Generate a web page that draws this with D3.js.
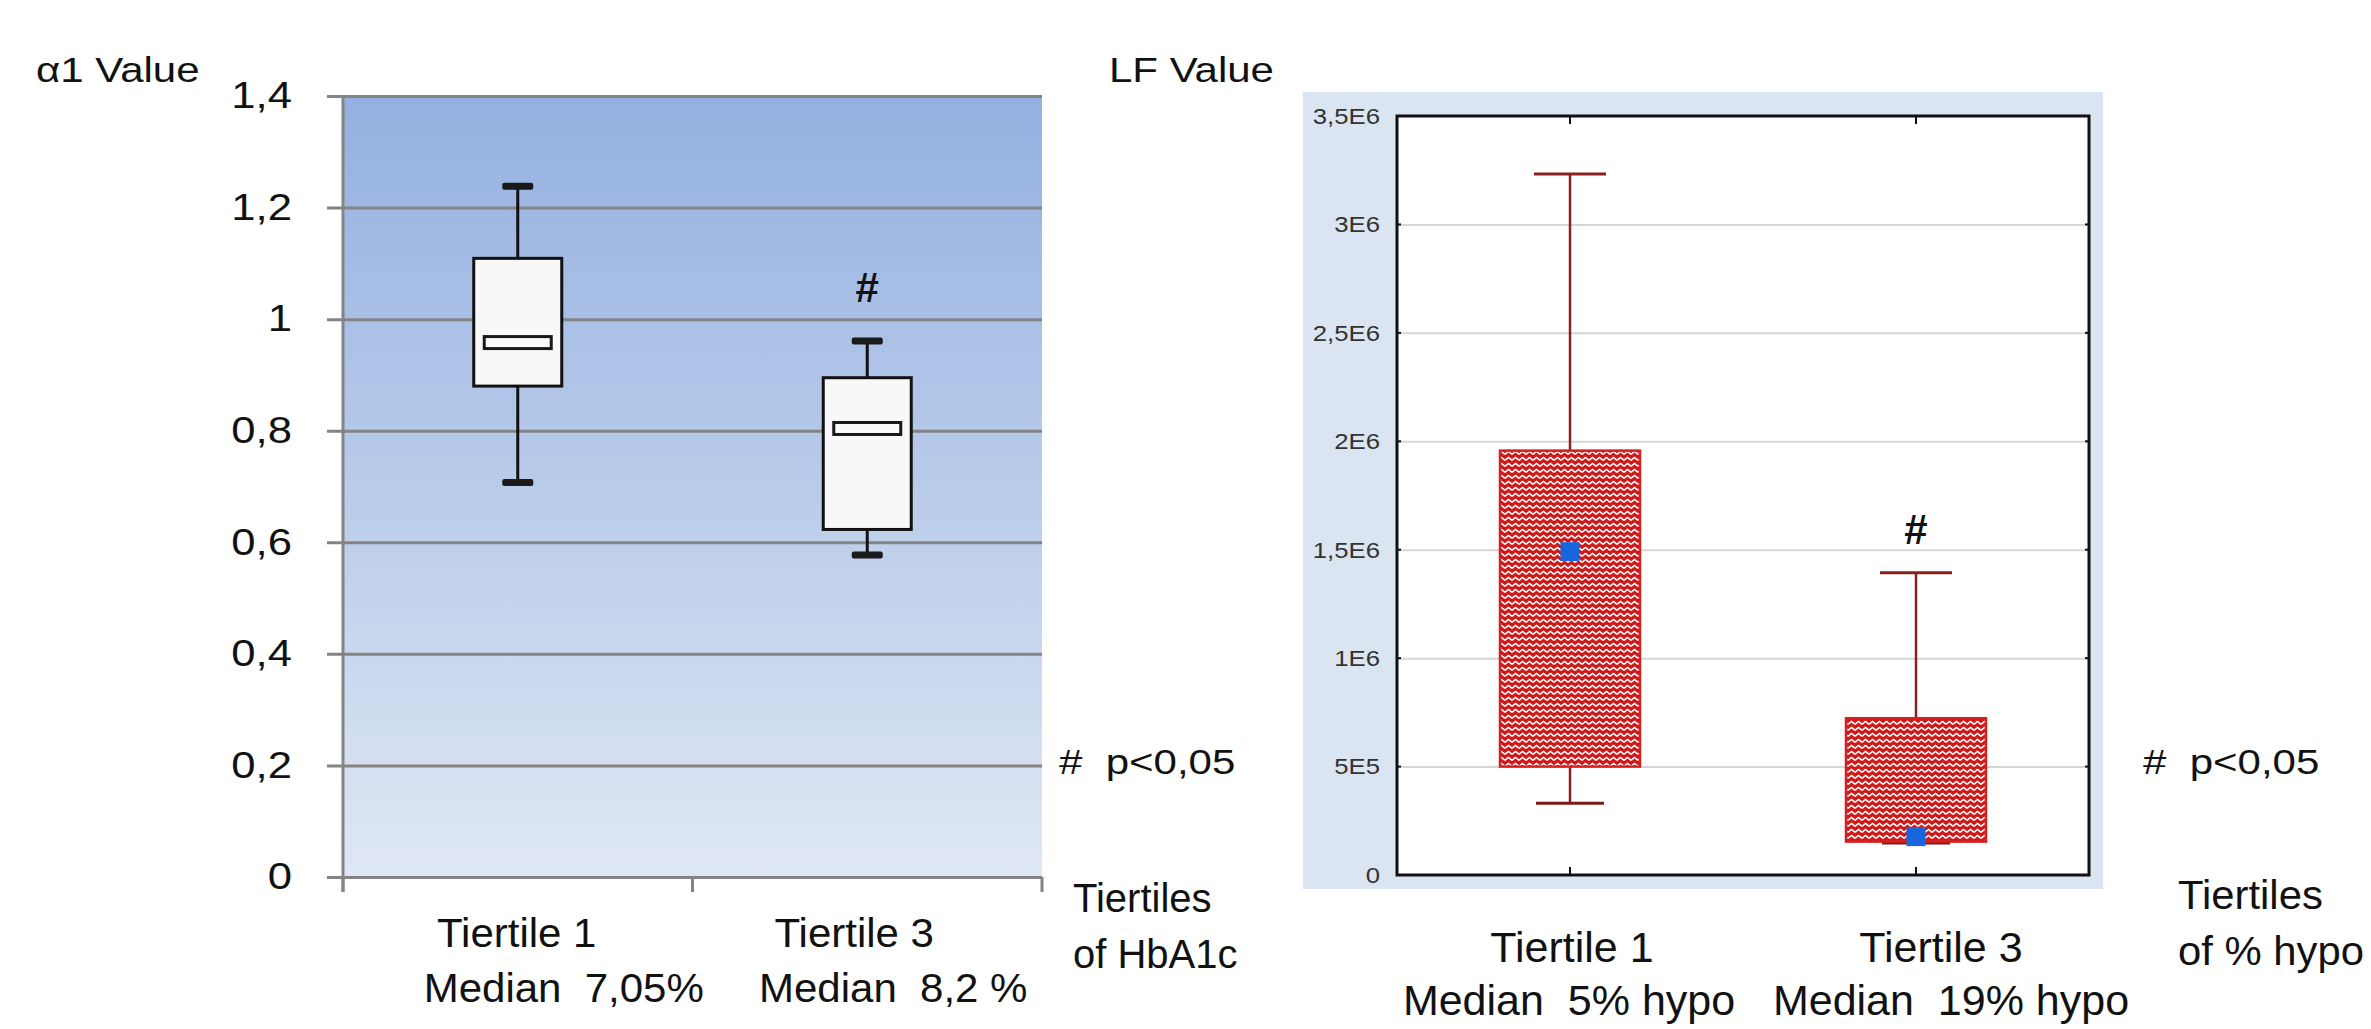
<!DOCTYPE html>
<html><head><meta charset="utf-8">
<script src="https://cdn.jsdelivr.net/npm/d3@7"></script>
<style>
html,body{margin:0;padding:0;background:#fff;}
text{font-family:"Liberation Sans",Arial,sans-serif;white-space:pre;}
</style></head>
<body>
<script>
// ---------- DATA ----------
const leftCats = ["Tiertile 1", "Tiertile 3"];
const leftSubs = ["Median  7,05%", "Median  8,2 %"];
const alphaMin = [0.707, 0.577];
const alphaQ1 = [0.880, 0.623];
const alphaMedian = [0.958, 0.804];
const alphaQ3 = [1.109, 0.895];
const alphaMax = [1.238, 0.961];
const alphaTicks = [0, 0.2, 0.4, 0.6, 0.8, 1, 1.2, 1.4];
const alphaTickLabels = ["0", "0,2", "0,4", "0,6", "0,8", "1", "1,2", "1,4"];
const alphaSig = [null, 1.06];

const rightCats = ["Tiertile 1", "Tiertile 3"];
const rightSubs = ["Median  5% hypo", "Median  19% hypo"];
const lfMin = [331000, 148000];
const lfQ1 = [500000, 154000];
const lfMean = [1491000, 177000];
const lfQ3 = [1957000, 723000];
const lfMax = [3233000, 1394000];
const lfTicks = [0, 500000, 1000000, 1500000, 2000000, 2500000, 3000000, 3500000];
const lfTickLabels = ["0", "5E5", "1E6", "1,5E6", "2E6", "2,5E6", "3E6", "3,5E6"];
const lfSig = [null, 1600000];

// ---------- SETUP ----------
const W = 2371, H = 1029;
const svg = d3.select("body").append("svg").attr("width", W).attr("height", H);
const defs = svg.append("defs");

function label(g, x, y, s, size, o = {}) {
  const sx = o.sx || 1;
  return g.append("text")
    .attr("transform", `translate(${x},${y}) scale(${sx},1)`)
    .attr("font-size", size)
    .attr("text-anchor", o.anchor || "start")
    .attr("font-weight", o.bold ? "bold" : "normal")
    .attr("fill", o.fill || "#111")
    .text(s);
}

// ---------- LEFT PANEL ----------
const L = {x0: 343, x1: 1042, y0: 877, y1: 96};
const yL = d3.scaleLinear().domain([0, 1.4]).range([L.y0, L.y1]);
const xL = d3.scaleBand().domain(leftCats).range([L.x0, L.x1]);
const gL = svg.append("g");

const grad = defs.append("linearGradient").attr("id", "lgrad").attr("x1", 0).attr("x2", 0).attr("y1", 0).attr("y2", 1);
grad.append("stop").attr("offset", "0%").attr("stop-color", "#94b0e0");
grad.append("stop").attr("offset", "100%").attr("stop-color", "#dfe7f4");
gL.append("rect").attr("x", L.x0).attr("y", yL(1.4)).attr("width", L.x1 - L.x0).attr("height", yL(0) - yL(1.4)).attr("fill", "url(#lgrad)");

// gridlines + labels via axis
const axL = gL.append("g").attr("transform", `translate(${L.x0 - 16},0)`)
  .call(d3.axisLeft(yL).tickValues(alphaTicks).tickFormat((d, i) => alphaTickLabels[i])
    .tickSize(-(L.x1 - L.x0 + 16)).tickPadding(35).tickSizeOuter(0));
axL.select(".domain").remove();
axL.selectAll(".tick line").attr("stroke", "#848484").attr("stroke-width", 3);
axL.selectAll(".tick text").attr("font-size", 37).attr("fill", "#111")
  .attr("font-family", "Liberation Sans, Arial, sans-serif")
  .attr("transform", "scale(1.18,1)").attr("x", -35 / 1.18);
// left axis line
gL.append("line").attr("x1", L.x0).attr("x2", L.x0).attr("y1", yL(1.4)).attr("y2", yL(0) + 15).attr("stroke", "#848484").attr("stroke-width", 3);
// bottom category tick marks at band boundaries
const bounds = [L.x0, ...leftCats.map(c => xL(c) + xL.bandwidth())];
gL.selectAll(".bt").data(bounds).join("line").attr("x1", d => d).attr("x2", d => d)
  .attr("y1", yL(0)).attr("y2", yL(0) + 15).attr("stroke", "#848484").attr("stroke-width", 3);

// boxes
const cx = c => xL(c) + xL.bandwidth() / 2;
leftCats.forEach((c, i) => {
  const x = cx(c);
  gL.append("line").attr("x1", x).attr("x2", x).attr("y1", yL(alphaMax[i])).attr("y2", yL(alphaMin[i])).attr("stroke", "#111").attr("stroke-width", 3);
  [alphaMax[i], alphaMin[i]].forEach(v => {
    gL.append("rect").attr("x", x - 15.5).attr("y", yL(v) - 3.5).attr("width", 31).attr("height", 7).attr("rx", 2).attr("fill", "#1a1a1a");
  });
  gL.append("rect").attr("x", x - 44).attr("y", yL(alphaQ3[i])).attr("width", 88).attr("height", yL(alphaQ1[i]) - yL(alphaQ3[i]))
    .attr("fill", "#f8f8f8").attr("stroke", "#111").attr("stroke-width", 3);
  gL.append("rect").attr("x", x - 33.5).attr("y", yL(alphaMedian[i]) - 6).attr("width", 67).attr("height", 12)
    .attr("fill", "#fbfbfb").attr("stroke", "#1a1a1a").attr("stroke-width", 3);
  if (alphaSig[i] != null) label(gL, x, yL(alphaSig[i]) + 16, "#", 42, {anchor: "middle", bold: true});
});

// texts left
label(gL, 36, 82, "α1 Value", 35, {sx: 1.2});
const lOffT = [-1, -13], lOffM = [46, 26];
leftCats.forEach((c, i) => {
  label(gL, cx(c) + lOffT[i], 947, c, 40, {anchor: "middle", sx: 1.05});
  label(gL, cx(c) + lOffM[i], 1002, leftSubs[i], 40, {anchor: "middle", sx: 1.05});
});
label(gL, 1059, 774, "#  p<0,05", 35, {sx: 1.2});
label(gL, 1073, 912, "Tiertiles", 40, {sx: 1.0});
label(gL, 1073, 968, "of HbA1c", 40, {sx: 1.0});

// ---------- RIGHT PANEL ----------
const R = {x0: 1397, x1: 2089, y0: 875, y1: 116};
const yR = d3.scaleLinear().domain([0, 3500000]).range([R.y0, R.y1]);
const xR = d3.scaleBand().domain(rightCats).range([R.x0, R.x1]);
const gR = svg.append("g");
gR.append("rect").attr("x", 1303).attr("y", 92).attr("width", 800).attr("height", 797).attr("fill", "#dbe5f1");
gR.append("rect").attr("x", R.x0).attr("y", R.y1).attr("width", R.x1 - R.x0).attr("height", R.y0 - R.y1).attr("fill", "#fff");

const axR = gR.append("g").attr("transform", `translate(${R.x0},0)`)
  .call(d3.axisLeft(yR).tickValues(lfTicks).tickFormat((d, i) => lfTickLabels[i])
    .tickSize(-(R.x1 - R.x0)).tickPadding(17).tickSizeOuter(0));
axR.select(".domain").remove();
axR.selectAll(".tick line").attr("stroke", (d) => (d === 0 || d === 3500000) ? "none" : "#d6d6d6").attr("stroke-width", 2);
axR.selectAll(".tick text").attr("font-size", 23).attr("fill", "#333")
  .attr("font-family", "Liberation Sans, Arial, sans-serif")
  .attr("transform", "scale(1.12,1)").attr("x", -17 / 1.12);

// hatch pattern (red zigzag)
const pat = defs.append("pattern").attr("id", "hatch").attr("patternUnits", "userSpaceOnUse").attr("width", 7).attr("height", 6);
pat.append("rect").attr("width", 7).attr("height", 6).attr("fill", "#d01818");
pat.append("path").attr("d", "M0,4.3 L3.5,1.5 L7,4.3").attr("fill", "none").attr("stroke", "#fff").attr("stroke-width", 1.5);

const cxr = c => xR(c) + xR.bandwidth() / 2;
rightCats.forEach((c, i) => {
  const x = cxr(c);
  gR.append("line").attr("x1", x).attr("x2", x).attr("y1", yR(lfMax[i])).attr("y2", yR(lfMin[i])).attr("stroke", "#8b2020").attr("stroke-width", 2.5);
  gR.append("line").attr("x1", x - 36).attr("x2", x + 36).attr("y1", yR(lfMax[i])).attr("y2", yR(lfMax[i])).attr("stroke", "#8b2020").attr("stroke-width", 3);
  gR.append("line").attr("x1", x - 34).attr("x2", x + 34).attr("y1", yR(lfMin[i])).attr("y2", yR(lfMin[i])).attr("stroke", "#7a1a1a").attr("stroke-width", 3);
  gR.append("rect").attr("x", x - 70).attr("y", yR(lfQ3[i])).attr("width", 140).attr("height", yR(lfQ1[i]) - yR(lfQ3[i]))
    .attr("fill", "url(#hatch)").attr("stroke", "#d42020").attr("stroke-width", 2.5);
  gR.append("rect").attr("x", x - 9.5).attr("y", yR(lfMean[i]) - 9.5).attr("width", 19).attr("height", 19).attr("fill", "#1766dd");
  if (lfSig[i] != null) label(gR, x, yR(lfSig[i]) + 16, "#", 42, {anchor: "middle", bold: true});
});

// frame
gR.append("rect").attr("x", R.x0).attr("y", R.y1).attr("width", R.x1 - R.x0).attr("height", R.y0 - R.y1)
  .attr("fill", "none").attr("stroke", "#111").attr("stroke-width", 3);
// inner ticks
rightCats.forEach(c => {
  const x = cxr(c);
  gR.append("line").attr("x1", x).attr("x2", x).attr("y1", R.y1).attr("y2", R.y1 + 8).attr("stroke", "#111").attr("stroke-width", 2);
  gR.append("line").attr("x1", x).attr("x2", x).attr("y1", R.y0).attr("y2", R.y0 - 8).attr("stroke", "#111").attr("stroke-width", 2);
});
lfTicks.forEach(v => {
  gR.append("line").attr("x1", R.x0).attr("x2", R.x0 + 4).attr("y1", yR(v)).attr("y2", yR(v)).attr("stroke", "#111").attr("stroke-width", 2);
  gR.append("line").attr("x1", R.x1).attr("x2", R.x1 - 4).attr("y1", yR(v)).attr("y2", yR(v)).attr("stroke", "#111").attr("stroke-width", 2);
});

// texts right
label(gR, 1109, 82, "LF Value", 35, {sx: 1.2});
const rOffT = [2, 25], rOffM = [-1, 35];
rightCats.forEach((c, i) => {
  label(gR, cxr(c) + rOffT[i], 962, c, 43, {anchor: "middle", sx: 1.0});
  label(gR, cxr(c) + rOffM[i], 1015, rightSubs[i], 43, {anchor: "middle", sx: 1.0});
});
label(gR, 2143, 774, "#  p<0,05", 35, {sx: 1.2});
label(gR, 2178, 909, "Tiertiles", 41, {sx: 1.02});
label(gR, 2178, 965, "of % hypo", 41, {sx: 1.02});
</script>
</body></html>
